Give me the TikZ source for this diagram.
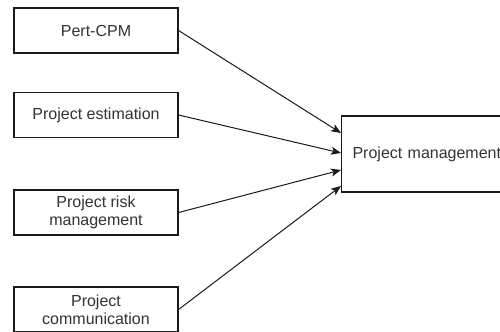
\documentclass[tikz,border=0pt]{standalone}
\usepackage{fontspec}
\setmainfont{Liberation Sans}
\usetikzlibrary{arrows.meta}
\definecolor{inkgray}{HTML}{333333}
\definecolor{edgegray}{HTML}{1A1A1A}
\begin{document}
\begin{tikzpicture}[x=1bp,y=-1bp,
  box/.style={draw=edgegray, line width=1.1bp, fill=white, minimum width=164bp,
    minimum height=45bp, inner sep=2bp, align=center, text=inkgray,
    font=\fontsize{16bp}{18bp}\selectfont},
  link/.style={draw=edgegray, line width=1bp,
    -{Stealth[length=10bp,width=8bp,inset=2.5bp]}}]
  \useasboundingbox (0,0) rectangle (500,331);
  \clip (0,0) rectangle (500,331);
  \fill[white] (0,0) rectangle (500,331);

  % source boxes on the left
  \node[box] (pert) at (96,30.5) {Pert-CPM};
  \node[box] (est)  at (96,115) {Project estimation};
  \node[box] (risk) at (96,212.5) {Project risk\\management};
  \node[box] (comm) at (96,309.5) {Project\\communication};

  % target box on the right, running past the right margin
  \node[box, minimum width=190bp, minimum height=76bp, text width=168bp,
    align=left, inner xsep=9bp, anchor=west] (pm) at (341,154) {Project management};

  % arrival points spread along the left side of the target
  \coordinate (in1) at ([yshift=21bp]pm.west);
  \coordinate (in2) at ([yshift=1bp]pm.west);
  \coordinate (in3) at ([yshift=-16bp]pm.west);
  \coordinate (in4) at ([yshift=-32bp]pm.west);

  \draw[link] (pert.east) -- (in1);
  \draw[link] (est.east)  -- (in2);
  \draw[link] (risk.east) -- (in3);
  \draw[link] (comm.east) -- (in4);
\end{tikzpicture}
\end{document}
